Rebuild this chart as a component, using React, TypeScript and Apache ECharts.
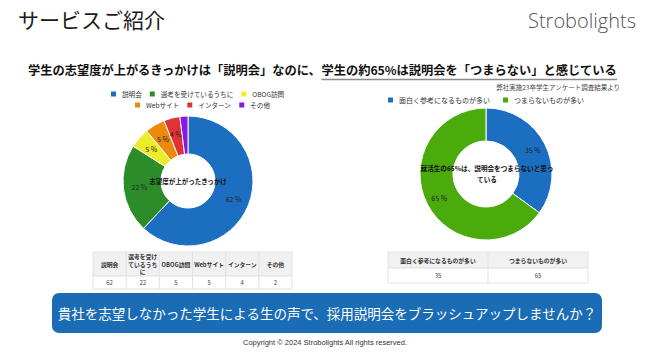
import React, { useEffect, useRef } from "react";
import * as echarts from "echarts";

const JP = "'Noto Sans CJK JP', 'Noto Sans', sans-serif";

const leftCategories = ["説明会", "選考を受けているうちに", "OBOG訪問", "Webサイト", "インターン", "その他"];
const leftValues = [62, 22, 5, 5, 4, 2];
const leftColors = ["#1c6fc0", "#2c8c2a", "#ecec28", "#ec8a0c", "#e03434", "#8a14ea"];
const leftHeaderLabels = ["説明会", "選考を受け\nているうち\nに", "OBOG訪問", "Webサイト", "インターン", "その他"];

const rightCategories = ["面白く参考になるものが多い", "つまらないものが多い"];
const rightValues = [35, 65];
const rightColors = ["#1c6fc0", "#4baa0c"];

const subtitleA = "学生の志望度が上がるきっかけは「説明会」なのに、";
const subtitleB = "学生の約65%は説明会を「つまらない」と感じている";

function measure(text: string, font: string) {
  const c = document.createElement("canvas").getContext("2d")!;
  c.font = font;
  return c.measureText(text).width;
}

function tableGraphics(x: number, y: number, w: number, hHead: number, hData: number, headers: string[], values: number[]) {
  const els: any[] = [];
  const n = headers.length;
  const cw = w / n;
  els.push({ type: "rect", shape: { x, y, width: w, height: hHead }, style: { fill: "#f1f1f1", stroke: "#e2e2e2", lineWidth: 1 } });
  els.push({ type: "rect", shape: { x, y: y + hHead, width: w, height: hData }, style: { fill: "#ffffff", stroke: "#e2e2e2", lineWidth: 1 } });
  for (let i = 1; i < n; i++) {
    els.push({ type: "line", shape: { x1: x + cw * i, y1: y, x2: x + cw * i, y2: y + hHead + hData }, style: { stroke: "#e2e2e2", lineWidth: 1 } });
  }
  headers.forEach((h, i) => {
    const lines = h.split("\n");
    const lh = 7.5;
    lines.forEach((ln, k) => {
      els.push({ type: "text", x: x + cw * (i + 0.5), y: y + hHead / 2 + (k - (lines.length - 1) / 2) * lh, style: { text: ln, font: `bold 5.8px ${JP}`, fill: "#333", align: "center", verticalAlign: "middle" } });
    });
    els.push({ type: "text", x: x + cw * (i + 0.5), y: y + hHead + hData / 2, style: { text: String(values[i]), font: `6px ${JP}`, fill: "#444", align: "center", verticalAlign: "middle" } });
  });
  return els;
}

export default function App() {
  const ref = useRef<HTMLDivElement>(null);
  useEffect(() => {
    const chart = echarts.init(ref.current!, undefined, { renderer: "svg" });
    const legendText = { fontSize: 6.6, color: "#333", fontFamily: JP };
    const subFont = `bold 12px ${JP}`;
    const wA = measure(subtitleA, subFont);
    const wB = measure(subtitleB, subFont);
    const scale = 589 / (wA + wB);
    const subSize = 12 * scale;
    const subFontS = `bold ${subSize}px ${JP}`;
    const xA = 28;
    const xB = 28 + wA * scale;
    chart.setOption({
      animation: false,
      backgroundColor: "#ffffff",
      legend: [
        { data: leftCategories.slice(0, 3), left: 109, top: 89.5, itemWidth: 7, itemHeight: 7, itemGap: 6, icon: "rect", textStyle: legendText, padding: 0 },
        { data: leftCategories.slice(3), left: 133, top: 100.5, itemWidth: 7, itemHeight: 7, itemGap: 6, icon: "rect", textStyle: legendText, padding: 0 },
        { data: rightCategories, left: 386, top: 95.5, itemWidth: 7, itemHeight: 7, itemGap: 11, icon: "rect", textStyle: { ...legendText, fontSize: 7 }, padding: 0 },
      ],
      series: [
        {
          type: "pie",
          center: [188, 181],
          radius: [27, 65],
          startAngle: 90,
          clockwise: true,
          avoidLabelOverlap: false,
          itemStyle: { borderColor: "#fff", borderWidth: 1 },
          label: { show: true, position: "inside", formatter: "{c} %", fontSize: 7, color: "#222", fontFamily: JP },
          labelLine: { show: false },
          data: leftCategories.map((c, i) => ({ name: c, value: leftValues[i], itemStyle: { color: leftColors[i] } })),
        },
        {
          type: "pie",
          center: [486, 174],
          radius: [33, 66],
          startAngle: 90,
          clockwise: true,
          avoidLabelOverlap: false,
          itemStyle: { borderColor: "#fff", borderWidth: 1 },
          label: { show: true, position: "inside", formatter: "{c} %", fontSize: 7, color: "#222", fontFamily: JP },
          labelLine: { show: false },
          data: rightCategories.map((c, i) => ({ name: c, value: rightValues[i], itemStyle: { color: rightColors[i] } })),
        },
      ],
      graphic: [
        { type: "text", z: 100, x: 18, y: 8, style: { text: "サービスご紹介", font: `21px ${JP}`, fill: "#1a1a1a" } },
        { type: "text", z: 100, x: 636, y: 10, style: { text: "Strobolights", font: `300 20px 'Open Sans', Lato, sans-serif`, fill: "#555", align: "right" } },
        { type: "text", z: 100, x: xA, y: 70, style: { text: subtitleA, font: subFontS, fill: "#111", verticalAlign: "middle" } },
        { type: "text", z: 100, x: xB, y: 70, style: { text: subtitleB, font: subFontS, fill: "#111", verticalAlign: "middle" } },
        { type: "line", z: 100, shape: { x1: xB, y1: 79.5, x2: 617, y2: 79.5 }, style: { stroke: "#8a8a8a", lineWidth: 1.5 } },
        { type: "text", z: 100, x: 620, y: 87, style: { text: "弊社実施23卒学生アンケート調査結果より", font: `6.5px ${JP}`, fill: "#444", align: "right", verticalAlign: "middle" } },
        { type: "text", z: 100, x: 188, y: 181, style: { text: "志望度が上がったきっかけ", font: `bold 6.5px ${JP}`, fill: "#111", align: "center", verticalAlign: "middle" } },
        { type: "text", z: 100, x: 487, y: 168, style: { text: "就活生の65%は、説明会をつまらないと思っ", font: `bold 6.6px ${JP}`, fill: "#111", align: "center", verticalAlign: "middle" } },
        { type: "text", z: 100, x: 487, y: 179, style: { text: "ている", font: `bold 6.6px ${JP}`, fill: "#111", align: "center", verticalAlign: "middle" } },
        ...tableGraphics(93, 252, 199, 24, 13, leftHeaderLabels, leftValues),
        ...tableGraphics(388, 252, 200, 16, 15, rightCategories, rightValues),
        { type: "rect", shape: { x: 52, y: 293, width: 550, height: 40, r: 7 }, style: { fill: "#1a6cb4" } },
        { type: "text", z: 100, x: 327, y: 313, style: { text: "貴社を志望しなかった学生による生の声で、採用説明会をブラッシュアップしませんか？", font: `13.5px ${JP}`, fill: "#ffffff", align: "center", verticalAlign: "middle" } },
        { type: "text", z: 100, x: 325, y: 342, style: { text: "Copyright © 2024 Strobolights All rights reserved.", font: `7.5px 'Liberation Sans', sans-serif`, fill: "#333", align: "center", verticalAlign: "middle" } },
      ],
    });
    return () => chart.dispose();
  }, []);
  return <div ref={ref} style={{ position: "fixed", left: 0, top: 0, width: 650, height: 358 }} />;
}
